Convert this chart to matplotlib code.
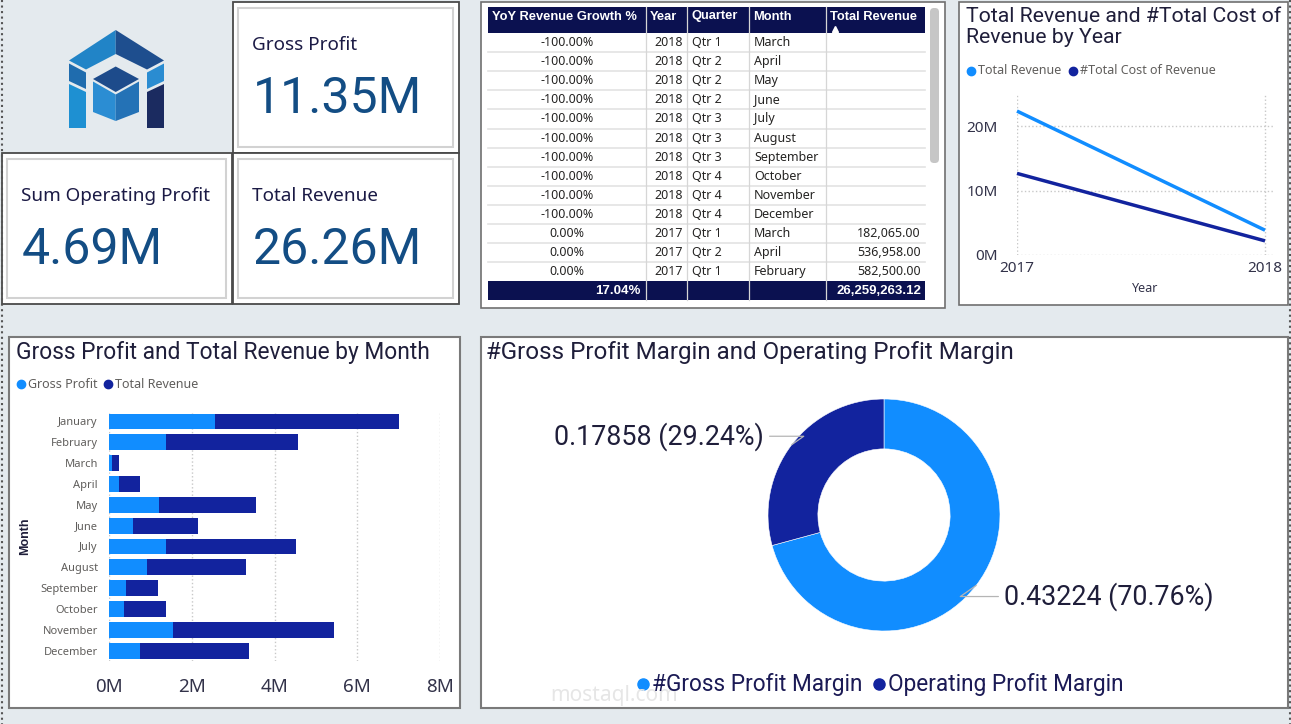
"""
Power BI style finance dashboard: KPI cards, revenue table, yearly lines,
monthly stacked bars and a margin donut.
"""
import matplotlib
matplotlib.use('Agg')
import matplotlib.pyplot as plt
from matplotlib.patches import Rectangle, Polygon, FancyBboxPatch
import numpy as np

W, H = 1291, 724

# ---- data -------------------------------------------------------------
kpi_labels = ['Gross Profit', 'Sum Operating Profit', 'Total Revenue']
kpi_values = ['11.35M', '4.69M', '26.26M']

months = ['January', 'February', 'March', 'April', 'May', 'June', 'July',
          'August', 'September', 'October', 'November', 'December']
gross_profit = [2.57, 1.37, 0.08, 0.23, 1.22, 0.59, 1.37, 0.91, 0.40, 0.36, 1.54, 0.75]   # M
total_revenue = [4.45, 3.20, 0.17, 0.52, 2.34, 1.57, 3.14, 2.39, 0.79, 1.02, 3.90, 2.63]  # M
bar_ticks = [0, 2, 4, 6, 8]

years = [2017, 2018]
year_revenue = [22.4, 3.86]   # M
year_cost = [12.7, 2.2]       # M
line_ticks = [0, 10, 20]

margin_labels = ['#Gross Profit Margin', 'Operating Profit Margin']
margin_values = [0.43224, 0.17858]

table_columns = ['YoY Revenue Growth %', 'Year', 'Quarter', 'Month', 'Total Revenue']
tbl_growth = ['-100.00%', '-100.00%', '-100.00%', '-100.00%', '-100.00%', '-100.00%',
              '-100.00%', '-100.00%', '-100.00%', '-100.00%', '0.00%', '0.00%', '0.00%']
tbl_year = ['2018'] * 10 + ['2017'] * 3
tbl_quarter = ['Qtr 1', 'Qtr 2', 'Qtr 2', 'Qtr 2', 'Qtr 3', 'Qtr 3', 'Qtr 3',
               'Qtr 4', 'Qtr 4', 'Qtr 4', 'Qtr 1', 'Qtr 2', 'Qtr 1']
tbl_month = ['March', 'April', 'May', 'June', 'July', 'August', 'September',
             'October', 'November', 'December', 'March', 'April', 'February']
tbl_revenue = [''] * 10 + ['182,065.00', '536,958.00', '582,500.00']
tbl_total = ['17.04%', '', '', '', '26,259,263.12']

# ---- style ------------------------------------------------------------
BG = '#E4EAEE'
LIGHT = '#118DFF'
DARK = '#12239E'
NAVY = '#0B1150'
KPI_BLUE = '#134D84'
TITLE_C = '#1F1E3A'
TXT = '#252423'
GRAY = '#605E5C'
TITLE_FONT = ['Roboto', 'DejaVu Sans']
BOLD_FONT = ['Liberation Sans', 'DejaVu Sans']
plt.rcParams['font.family'] = ['Noto Sans', 'DejaVu Sans']

fig = plt.figure(figsize=(W / 100, H / 100), dpi=100, facecolor=BG)

# full-figure canvas in pixel coordinates
bg = fig.add_axes([0, 0, 1, 1])
bg.set_xlim(0, W)
bg.set_ylim(H, 0)
bg.axis('off')


def px_axes(x0, y0, x1, y1):
    ax = fig.add_axes([x0 / W, 1 - y1 / H, (x1 - x0) / W, (y1 - y0) / H])
    ax.set_facecolor('none')
    return ax


def panel(x0, y0, x1, y1, ec='#707070', lw=1.2):
    bg.add_patch(Rectangle((x0, y0), x1 - x0, y1 - y0, fc='white', ec=ec, lw=lw))


# page edges (dotted canvas border)
bg.plot([1.5, 1.5], [0, H], ls=':', color='#555555', lw=1.5)
bg.plot([1289.5, 1289.5], [0, H], ls=':', color='#555555', lw=1.5)

# ---- logo -------------------------------------------------------------
logo = [
    ([(115.7, 30), (69, 60.5), (86, 69.5), (115.7, 54)], '#2184C7'),
    ([(115.7, 30), (164, 60.5), (147, 69.5), (115.7, 54)], '#1E4E8E'),
    ([(69, 63.5), (86, 72.5), (86, 89), (69, 81)], '#1F6CAE'),
    ([(69, 84), (86, 92), (86, 128), (69, 128)], '#1E90D2'),
    ([(147, 72.5), (164, 63.5), (164, 81), (147, 89)], '#2A8CD1'),
    ([(147, 92), (164, 84), (164, 128), (147, 128)], '#1B2B60'),
    ([(115.7, 66.5), (139, 79), (115.7, 92), (93, 79)], '#1D4B8B'),
    ([(93, 81.5), (115.7, 94.5), (115.7, 121), (93, 112)], '#2B8DD3'),
    ([(115.7, 94.5), (139, 81.5), (139, 112), (115.7, 121)], '#2472B6'),
]
for pts, c in logo:
    bg.add_patch(Polygon(pts, closed=True, fc=c, ec='none'))

# ---- KPI cards --------------------------------------------------------
cards = [(233, 2, 459, 153), (2, 153, 232, 304), (233, 153, 459, 304)]
for (x0, y0, x1, y1), lab, val in zip(cards, kpi_labels, kpi_values):
    panel(x0, y0, x1, y1, ec='#4A4A4A', lw=1.3)
    bg.add_patch(Rectangle((x0 + 5, y0 + 6), x1 - x0 - 11, y1 - y0 - 12,
                           fc='none', ec='#D2D2D2', lw=1.5))
    bg.text(x0 + 19, y0 + 43, lab, fontsize=13.6, color='#1B1A45', va='center')
    bg.text(x0 + 20, y0 + 97, val, fontsize=36, color=KPI_BLUE, va='center',
            family=TITLE_FONT)

# ---- table ------------------------------------------------------------
panel(481, 2, 945, 308)
col_x = [488, 646, 687, 749, 826, 925]
h_top, h_bot = 7, 33
row_h = 19.1
body_bot = h_bot + len(tbl_month) * row_h
t_bot = 300
TFS = 9
bg.add_patch(Rectangle((col_x[0], h_top), col_x[-1] - col_x[0], h_bot - h_top, fc=NAVY, ec='none'))
bg.add_patch(Rectangle((col_x[0], body_bot), col_x[-1] - col_x[0], t_bot - body_bot, fc=NAVY, ec='none'))
for i, name in enumerate(table_columns):
    bg.text(col_x[i] + 4, 16.5, name, fontsize=9.3, fontweight='bold', color='white',
            va='center', family=BOLD_FONT)
bg.plot([835], [29], marker='^', color='white', ms=4.5)

for r in range(len(tbl_month)):
    yc = h_bot + (r + 0.5) * row_h
    bg.text((col_x[0] + col_x[1]) / 2, yc, tbl_growth[r], fontsize=TFS, color=TXT, ha='center', va='center')
    bg.text(col_x[2] - 4, yc, tbl_year[r], fontsize=TFS, color=TXT, ha='right', va='center')
    bg.text(col_x[2] + 5, yc, tbl_quarter[r], fontsize=TFS, color=TXT, va='center')
    bg.text(col_x[3] + 5, yc, tbl_month[r], fontsize=TFS, color=TXT, va='center')
    bg.text(col_x[5] - 4, yc, tbl_revenue[r], fontsize=TFS, color=TXT, ha='right', va='center')
    if r < len(tbl_month) - 1:
        yl = h_bot + (r + 1) * row_h
        bg.plot([col_x[0], col_x[-1]], [yl, yl], color='#E3E3E3', lw=1.2)
for x in col_x[1:-1]:
    bg.plot([x, x], [h_top, t_bot], color='#D6D6D6', lw=0.9)
ty = (body_bot + t_bot) / 2
bg.text(col_x[1] - 5, ty, tbl_total[0], fontsize=9.5, fontweight='bold', color='white',
        ha='right', va='center', family=BOLD_FONT)
bg.text(col_x[5] - 4, ty, tbl_total[4], fontsize=9.5, fontweight='bold', color='white',
        ha='right', va='center', family=BOLD_FONT)
bg.add_patch(FancyBboxPatch((930, 8), 9, 155, boxstyle='round,pad=0,rounding_size=4',
                            fc='#C6C6C6', ec='none'))

# ---- line chart: revenue & cost by year --------------------------------
panel(959, 2, 1288, 305)
bg.text(966, 27, 'Total Revenue and #Total Cost of\nRevenue by Year', fontsize=15.3,
        color=TITLE_C, va='center', family=TITLE_FONT, linespacing=1.1)
bg.plot([971], [71], 'o', color=LIGHT, ms=6)
bg.text(978, 71, 'Total Revenue', fontsize=9, color=GRAY, va='center')
bg.plot([1073], [71], 'o', color=DARK, ms=6)
bg.text(1080, 71, '#Total Cost of Revenue', fontsize=9, color=GRAY, va='center')

ax2 = px_axes(1017, 95, 1274, 255)
ax2.plot(years, year_revenue, color=LIGHT, lw=2.5, clip_on=False, solid_capstyle='butt')
ax2.plot(years, year_cost, color=DARK, lw=2.5, clip_on=False, solid_capstyle='butt')
ax2.set_xlim(2017, 2018 + 9 / 248)
ax2.set_ylim(0, 24.9)
ax2.set_xticks(years)
ax2.set_xticklabels([str(y) for y in years])
ax2.set_yticks(line_ticks)
ax2.set_yticklabels([f'{v}M' for v in line_ticks])
ax2.grid(True, ls=':', color='#C8C8C8', lw=1)
ax2.set_axisbelow(True)
for s in ax2.spines.values():
    s.set_visible(False)
ax2.tick_params(length=0, labelsize=11, colors='#33334A')
ax2.tick_params(axis='y', pad=14)
ax2.tick_params(axis='x', pad=4)
ax2.set_xlabel('Year', fontsize=9, color='#33334A', labelpad=5)

# ---- bar chart: gross profit and revenue by month ------------------------
panel(9, 337, 460, 708, ec='#7A7A7A', lw=1.5)
bg.text(16, 352, 'Gross Profit and Total Revenue by Month', fontsize=16.4,
        color=TITLE_C, va='center', family=TITLE_FONT)
bg.plot([21], [384], 'o', color=LIGHT, ms=6)
bg.text(28, 384, 'Gross Profit', fontsize=9, color=GRAY, va='center')
bg.plot([108], [384], 'o', color=DARK, ms=6)
bg.text(115, 384, 'Total Revenue', fontsize=9, color=GRAY, va='center')

ax1 = px_axes(109, 411, 440, 661)
yy = np.arange(len(months))
ax1.barh(yy, gross_profit, height=0.76, color=LIGHT)
ax1.barh(yy, total_revenue, left=gross_profit, height=0.76, color=DARK)
ax1.set_ylim(len(months) - 0.5, -0.5)
ax1.set_xlim(0, 8)
ax1.set_yticks(yy)
ax1.set_yticklabels(months)
ax1.set_xticks(bar_ticks)
ax1.set_xticklabels([f'{v}M' for v in bar_ticks])
ax1.grid(axis='x', ls=':', color='#C8C8C8', lw=1)
ax1.set_axisbelow(True)
for s in ax1.spines.values():
    s.set_visible(False)
ax1.tick_params(length=0)
ax1.tick_params(axis='y', labelsize=8, colors=GRAY, pad=8)
ax1.tick_params(axis='x', labelsize=13.5, colors='#33334A', pad=12)
ax1.set_ylabel('Month', fontsize=9, color=TITLE_C, fontweight='bold', family=BOLD_FONT)
ax1.yaxis.set_label_coords(-0.235, 0.5)

# ---- donut: margins -----------------------------------------------------
panel(481, 337, 1288, 708, ec='#7A7A7A', lw=1.5)
bg.text(486, 352, '#Gross Profit Margin and Operating Profit Margin', fontsize=17.4,
        color=TITLE_C, va='center', family=TITLE_FONT)

ax3 = px_axes(768, 399, 1000, 631)
wedges, _ = ax3.pie(margin_values, colors=[LIGHT, DARK], startangle=90, counterclock=False,
                    radius=1, wedgeprops=dict(width=0.43, edgecolor='white', linewidth=0.4))
ax3.set_xlim(-1, 1)
ax3.set_ylim(-1, 1)
ax3.set_aspect('equal')
total_margin = sum(margin_values)
for w, v in zip(wedges, margin_values):
    ang = np.deg2rad((w.theta1 + w.theta2) / 2)
    x, y = np.cos(ang), np.sin(ang)
    lab = f'{v:.5f} ({v / total_margin * 100:.2f}%)'
    if x < 0:
        off, ha = (-20, 6), 'right'
    else:
        off, ha = (20, -8), 'left'
    ax3.annotate(lab, xy=(x, y), xytext=off, textcoords='offset points', ha=ha, va='center',
                 fontsize=19.4, color=TITLE_C, family=TITLE_FONT, annotation_clip=False,
                 arrowprops=dict(arrowstyle='-', color='#B5B5B5', lw=0.9, shrinkA=2, shrinkB=0,
                                 connectionstyle='angle,angleA=0,angleB=35,rad=0'))

# watermark
bg.text(614, 696, 'mostaql.com', fontsize=15, color='#E6E6E6', ha='center', va='center')

for c, lab, xm in zip([LIGHT, DARK], margin_labels, [643, 879]):
    bg.plot([xm], [684], 'o', color=c, ms=8)
    bg.text(xm + 9, 684, lab, fontsize=16.3, color='#1B1A55', va='center', family=TITLE_FONT)

fig.savefig('out.png', dpi=100, facecolor=BG)
